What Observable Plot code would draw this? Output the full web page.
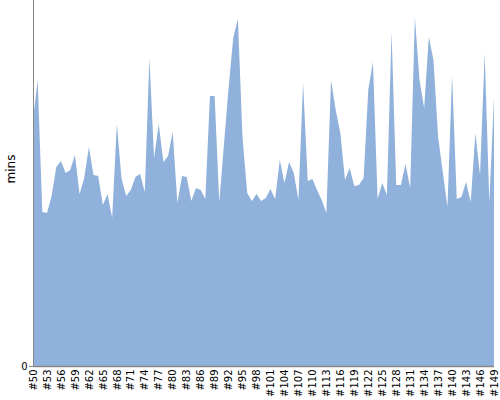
<!DOCTYPE html>
<html>
<head>
<meta charset="utf-8">
<script src="https://cdn.jsdelivr.net/npm/d3@7"></script>
<script src="https://cdn.jsdelivr.net/npm/@observablehq/plot@0.6"></script>
<style>
  html, body { margin: 0; padding: 0; background: #fff; }
</style>
</head>
<body>
<div id="chart"></div>
<script>
const categories = d3.range(50, 150).map(n => "#" + n);
const values = [
  246, 286, 154, 153, 170, 199, 205, 193, 196, 211,
  172, 188, 219, 191, 190, 161, 172, 148, 242, 188,
  170, 176, 189, 192, 174, 308, 208, 242, 204, 210,
  234, 163, 190, 189, 165, 178, 176, 167, 270, 270,
  164, 221, 278, 328, 347, 228, 173, 165, 172, 165,
  168, 177, 167, 206, 183, 204, 193, 166, 283, 185,
  187, 176, 166, 153, 286, 256, 233, 186, 198, 180,
  181, 188, 276, 304, 167, 183, 171, 334, 181, 181,
  202, 178, 349, 286, 258, 329, 306, 229, 194, 159,
  291, 167, 169, 184, 164, 233, 191, 313, 163, 269
];
const xTickLabels = ["#50","#53","#56","#59","#62","#65","#68","#71","#74","#77","#80","#83","#86","#89","#92","#95","#98","#101","#104","#107","#110","#113","#116","#119","#122","#125","#128","#131","#134","#137","#140","#143","#146","#149"];
const yTickValues = [0];
const yLabel = "mins";

const data = categories.map((c, i) => ({label: c, value: values[i]}));

const chart = Plot.plot({
  width: 500,
  height: 400,
  marginLeft: 33,
  marginRight: 6,
  marginTop: 0,
  marginBottom: 34,
  style: {fontFamily: "'DejaVu Sans', sans-serif", fontSize: "10px", background: "#fff"},
  x: {type: "point", domain: categories, padding: 0},
  y: {domain: [0, 366]},
  marks: [
    Plot.areaY(data, {x: "label", y: "value", fill: "#8FB1DB", curve: "linear"}),
    Plot.ruleX([categories[0]], {stroke: "#888", strokeWidth: 1, y1: 0, y2: 366}),
    Plot.ruleY([0], {stroke: "#888", strokeWidth: 1.5}),
    Plot.axisX({ticks: xTickLabels, tickSize: 0, tickPadding: 3, tickRotate: -90, fontSize: 10, fill: "#000", label: null}),
    Plot.axisY({ticks: yTickValues, tickSize: 4, tickPadding: 2, stroke: "#888", fontSize: 10, fill: "#000", label: null}),
    Plot.text([yLabel], {frameAnchor: "left", dx: -22, rotate: -90, fontSize: 12, fill: "#000", fontFamily: "'DejaVu Sans', sans-serif"})
  ]
});
document.getElementById("chart").appendChild(chart);
</script>
</body>
</html>
